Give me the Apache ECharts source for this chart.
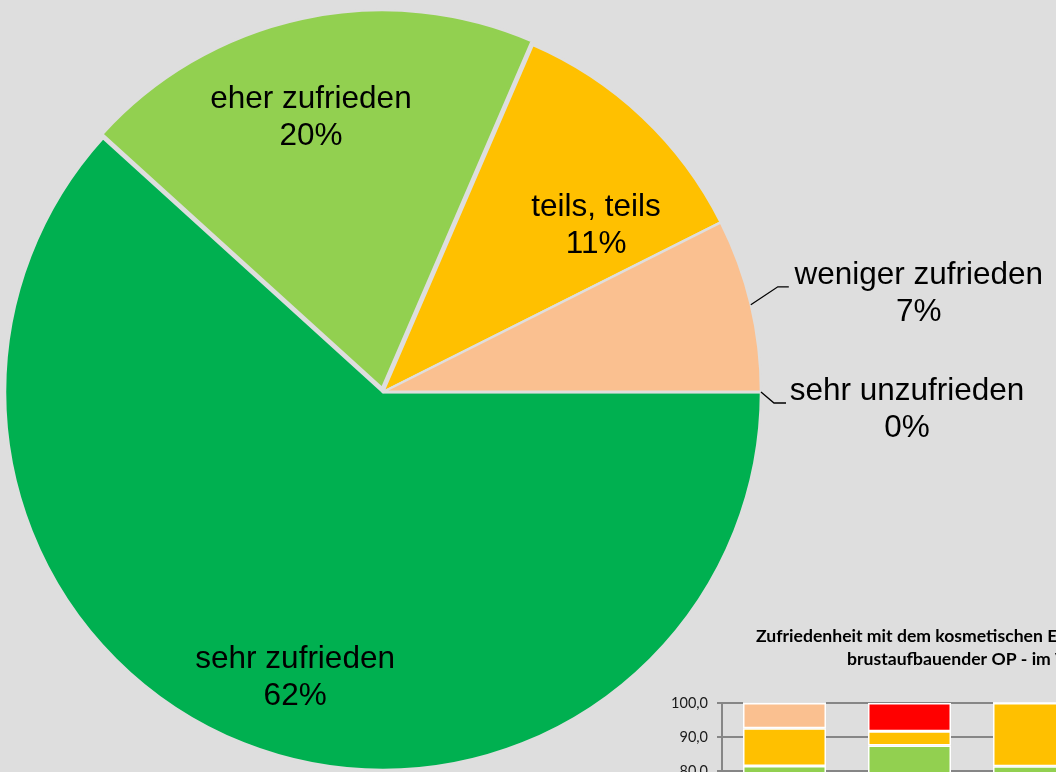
<!DOCTYPE html>
<html>
<head>
<meta charset="utf-8">
<script src="https://cdn.jsdelivr.net/npm/echarts@6/dist/echarts.min.js"></script>
<style>
  html, body { margin: 0; padding: 0; background: #dedede; }
  #chart { width: 1056px; height: 772px; }
</style>
</head>
<body>
<div id="chart"></div>
<script>
// pie: answers and number of patients
const pieNames = ['sehr zufrieden', 'eher zufrieden', 'teils, teils', 'weniger zufrieden', 'sehr unzufrieden']
const pieCounts = [50, 16, 9, 6, 0]
const pieColors = ['#00b050', '#92d050', '#ffc000', '#fac090', '#ff0000']

// inset bar chart (percent per group, stacked from the bottom)
const barGroups = ['1', '2', '3']
const barSehr = [61.7, 62.5, 58.1]
const barEher = [19.8, 25.0, 23.3]
const barTeils = [11.1, 4.2, 18.6]
const barWeniger = [7.4, 0, 0]
const barUnzufrieden = [0, 8.3, 0]
const barSeries = [barSehr, barEher, barTeils, barWeniger, barUnzufrieden]

const PIE_CENTER = [383, 392]
const PIE_RADIUS = 378
// inside labels: share of radius, shift in degrees from the slice middle
const insidePlace = {
  'sehr zufrieden': [0.79, -4],
  'eher zufrieden': [0.75, -2.5],
  'teils, teils': [0.715, 8.7]
}
// outside labels: text centre, leader bend, leader end (relative to slice edge)
const outsidePlace = {
  'weniger zufrieden': [[168, -11], [27, -18], [38, -18]],
  'sehr unzufrieden': [[146, 18], [13, 11], [25, 11]]
}

const chart = echarts.init(document.getElementById('chart'))

const labelFont = {
  color: '#000',
  fontFamily: 'Liberation Sans, Arial, sans-serif',
  fontSize: 31.5,
  lineHeight: 37
}

function placeLabel (p) {
  const name = pieNames[p.dataIndex]
  const r = p.labelRect
  if (insidePlace[name]) {
    const k = insidePlace[name][0]
    const shift = insidePlace[name][1]
    const dx = r.x + r.width / 2 - PIE_CENTER[0]
    const dy = r.y + r.height / 2 - PIE_CENTER[1]
    const a = Math.atan2(dy, dx) + shift * Math.PI / 180
    return {
      x: PIE_CENTER[0] + Math.cos(a) * k * PIE_RADIUS,
      y: PIE_CENTER[1] + Math.sin(a) * k * PIE_RADIUS,
      align: 'center',
      verticalAlign: 'middle'
    }
  }
  const o = outsidePlace[name]
  const p0 = p.labelLinePoints[0]
  return {
    x: p0[0] + o[0][0],
    y: p0[1] + o[0][1],
    align: 'center',
    verticalAlign: 'middle',
    labelLinePoints: [
      p0,
      [p0[0] + o[1][0], p0[1] + o[1][1]],
      [p0[0] + o[2][0], p0[1] + o[2][1]]
    ]
  }
}

const pieBase = {
  type: 'pie',
  center: PIE_CENTER,
  radius: PIE_RADIUS,
  startAngle: 0,
  clockwise: true,
  percentPrecision: 0,
  avoidLabelOverlap: false,
  silent: true
}

chart.setOption({
  backgroundColor: '#dedede',
  animation: false,
  title: [{
    text: 'Zufriedenheit mit dem kosmetischen Ergebnis',
    left: 756,
    top: 627,
    padding: 0,
    textStyle: { fontFamily: 'Lato', fontWeight: 'bold', fontSize: 17.6, color: '#000' }
  }, {
    text: 'brustaufbauender OP - im Vergleich',
    left: 847,
    top: 650,
    padding: 0,
    textStyle: { fontFamily: 'Lato', fontWeight: 'bold', fontSize: 17.6, color: '#000' }
  }],
  grid: {
    left: 722,
    top: 703,
    width: 375,
    height: 340,
    outerBoundsMode: 'none',
    containLabel: false
  },
  xAxis: {
    type: 'category',
    data: barGroups,
    axisLine: { lineStyle: { color: '#868686', width: 2 } },
    axisTick: { show: false }
  },
  yAxis: {
    type: 'value',
    min: 0,
    max: 100,
    interval: 10,
    axisLine: { show: true, lineStyle: { color: '#868686', width: 2 } },
    axisTick: { show: true, length: 5, lineStyle: { color: '#868686', width: 2 } },
    splitLine: { lineStyle: { color: '#868686', width: 2 } },
    axisLabel: {
      margin: 14,
      color: '#1a1a1a',
      fontFamily: 'Lato',
      fontSize: 14.5,
      formatter: v => v.toFixed(1).replace('.', ',')
    }
  },
  series: [Object.assign({}, pieBase, {
    // coloured slices, "eher zufrieden" pulled out
    z: 2,
    selectedMode: 'single',
    selectedOffset: 4,
    itemStyle: { borderColor: '#dedede', borderWidth: 2.5 },
    select: { itemStyle: { borderColor: '#dedede', borderWidth: 2.5 } },
    label: { show: false },
    labelLine: { show: false },
    data: pieNames.map((n, i) => ({
      name: n,
      value: pieCounts[i],
      selected: n === 'eher zufrieden',
      itemStyle: { color: pieColors[i] }
    }))
  }), Object.assign({}, pieBase, {
    // transparent copy that carries the labels
    z: 5,
    itemStyle: { color: 'rgba(0,0,0,0)', borderWidth: 0 },
    label: Object.assign({ formatter: '{b}\n{d}%' }, labelFont),
    labelLine: { show: true, lineStyle: { color: '#000', width: 1.3 } },
    labelLayout: placeLabel,
    data: pieNames.map((n, i) => ({
      name: n,
      value: pieCounts[i],
      label: { position: insidePlace[n] ? 'inside' : 'outside' },
      labelLine: { show: !insidePlace[n] }
    }))
  })].concat(barSeries.map((vals, i) => ({
    type: 'bar',
    name: pieNames[i],
    stack: 'all',
    barWidth: 83,
    data: vals,
    itemStyle: { color: pieColors[i], borderColor: '#fff', borderWidth: 1.5 }
  })))
})
</script>
</body>
</html>
